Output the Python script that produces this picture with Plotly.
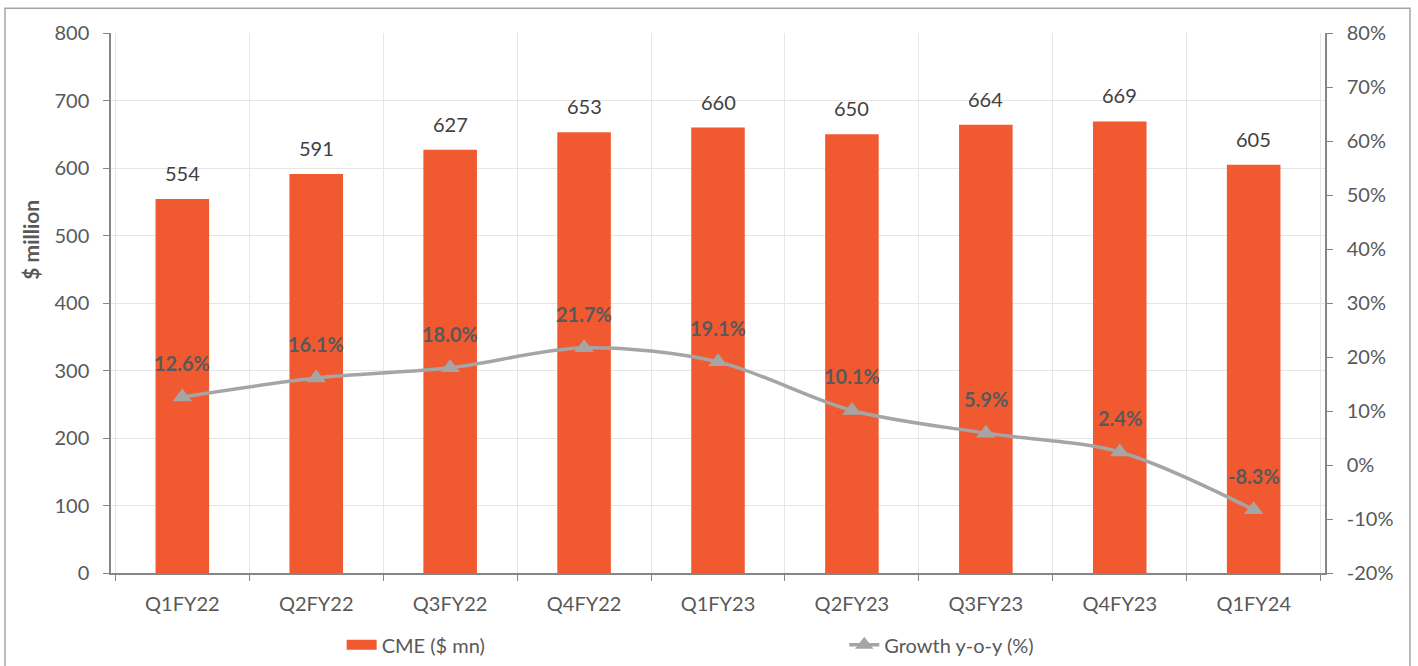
import plotly.graph_objects as go

categories = ["Q1FY22", "Q2FY22", "Q3FY22", "Q4FY22", "Q1FY23", "Q2FY23", "Q3FY23", "Q4FY23", "Q1FY24"]
cme = [554, 591, 627, 653, 660, 650, 664, 669, 605]
growth = [12.6, 16.1, 18.0, 21.7, 19.1, 10.1, 5.9, 2.4, -8.3]
pct_ticks = [-20, -10, 0, 10, 20, 30, 40, 50, 60, 70, 80]
pct_tick_labels = [f"{v}%" for v in pct_ticks]

FONT = "Lato"
BAR = "#F15A31"
LINE = "#A5A5A5"
AXIS = "#868686"
GRID = "#E6E6E6"
TXT = "#595959"

fig = go.Figure()
fig.add_trace(go.Bar(
    x=categories, y=cme, name="CME ($ mn)", marker=dict(color=BAR, line=dict(width=0)),
    width=0.4, yaxis="y", showlegend=False,
))
# legend entry for the bars drawn as a wide swatch
fig.add_trace(go.Scatter(
    x=[None], y=[None], name="CME ($ mn)", mode="lines", yaxis="y", legend="legend",
    line=dict(color=BAR, width=15),
))
fig.add_trace(go.Scatter(
    x=categories, y=growth, name="Growth y-o-y (%)", yaxis="y2", legend="legend2",
    mode="lines+markers", line=dict(color=LINE, width=3.5, shape="spline", smoothing=0.9),
    marker=dict(symbol="triangle-up", size=17, color=LINE),
))

annotations = []
for c, v in zip(categories, cme):
    annotations.append(dict(x=c, y=v, xref="x", yref="y", text=str(v), showarrow=False,
                            yshift=26, font=dict(family=FONT, size=20, color="#404040")))
for c, v in zip(categories, growth):
    annotations.append(dict(x=c, y=v, xref="x", yref="y2", text=f"{v:.1f}%", showarrow=False,
                            yshift=34, font=dict(family=FONT, size=20, color=TXT, weight="bold")))
annotations.append(dict(text="<b>$ million</b>", xref="paper", yref="paper", x=-0.066, y=0.617,
                        textangle=-90, showarrow=False, xanchor="center", yanchor="middle",
                        font=dict(family=FONT, size=21, color=TXT)))

legend_common = dict(orientation="h", yanchor="middle", y=-0.133, xanchor="left",
                     font=dict(family=FONT, size=20, color=TXT), bgcolor="rgba(0,0,0,0)",
                     itemsizing="trace")

fig.update_layout(
    width=1418, height=666,
    margin=dict(l=111, r=93, t=33, b=93, autoexpand=False),
    paper_bgcolor="white", plot_bgcolor="white",
    font=dict(family=FONT, size=20, color=TXT),
    showlegend=True,
    legend=dict(legend_common, x=0.19),
    legend2=dict(legend_common, x=0.604),
    xaxis=dict(showline=True, linecolor=AXIS, linewidth=1.5, ticks="outside", ticklen=6,
               tickcolor=AXIS, tickson="boundaries", showgrid=True, gridcolor=GRID,
               ticklabelstandoff=12,
               tickfont=dict(family=FONT, size=20, color=TXT)),
    yaxis=dict(range=[0, 800], dtick=100, showline=True, linecolor=AXIS, linewidth=1.5,
               ticks="outside", ticklen=6, tickcolor=AXIS, showgrid=True, gridcolor=GRID,
               zeroline=False, ticklabelstandoff=10,
               tickfont=dict(family=FONT, size=20, color=TXT)),
    yaxis2=dict(range=[-20, 80], tickvals=pct_ticks, ticktext=pct_tick_labels,
                overlaying="y", side="right", showline=True,
                linecolor=AXIS, linewidth=1.5, ticks="outside", ticklen=6, tickcolor=AXIS,
                showgrid=False, zeroline=False, ticklabelstandoff=10,
                tickfont=dict(family=FONT, size=20, color=TXT)),
    annotations=annotations,
    shapes=[dict(type="rect", xref="paper", yref="paper", x0=-0.0873, x1=1.07, y0=-0.22, y1=1.046,
                 line=dict(color="#A6A6A6", width=1.5), fillcolor="rgba(0,0,0,0)", layer="below")],
)

fig.write_html("out.html")
